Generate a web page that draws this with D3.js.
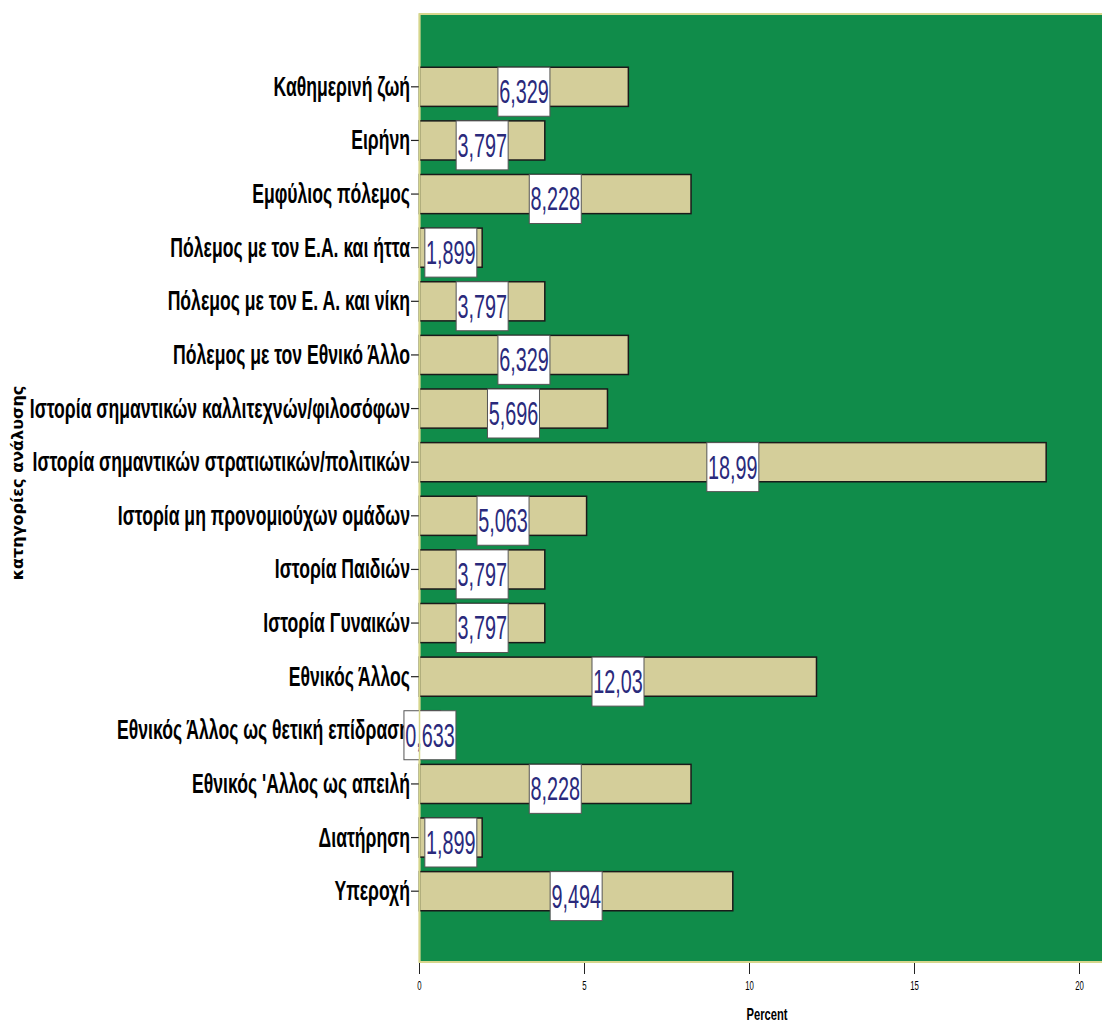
<!DOCTYPE html>
<html><head><meta charset="utf-8">
<script src="https://cdn.jsdelivr.net/npm/d3@7"></script>
<style>body{margin:0;background:#fff}svg{display:block}</style>
</head><body>
<script>
const categories = ["Καθημερινή ζωή","Ειρήνη","Εμφύλιος πόλεμος","Πόλεμος με τον Ε.Α. και ήττα","Πόλεμος με τον Ε. Α. και νίκη","Πόλεμος με τον Εθνικό Άλλο","Ιστορία σημαντικών καλλιτεχνών/φιλοσόφων","Ιστορία σημαντικών στρατιωτικών/πολιτικών","Ιστορία μη προνομιούχων ομάδων","Ιστορία Παιδιών","Ιστορία Γυναικών","Εθνικός Άλλος","Εθνικός Άλλος ως θετική επίδραση","Εθνικός 'Αλλος ως απειλή","Διατήρηση","Υπεροχή"];
const values = [6.329,3.797,8.228,1.899,3.797,6.329,5.696,18.99,5.063,3.797,3.797,12.03,0.633,8.228,1.899,9.494];
const valueLabels = ["6,329","3,797","8,228","1,899","3,797","6,329","5,696","18,99","5,063","3,797","3,797","12,03","0,633","8,228","1,899","9,494"];
const xTicks = [0,5,10,15,20];
const xTitle = "Percent";
const yTitle = "κατηγορίες ανάλυσης";

const W=1102,H=1022;
const svg=d3.select("body").append("svg").attr("width",W).attr("height",H);
const plotL=419.5, plotT=14, plotB=962;
const x=d3.scaleLinear().domain([0,20]).range([plotL,1079.5]);
const y=d3.scaleBand().domain(categories).range([60,918]).paddingInner(0.27).paddingOuter(0.135);

svg.append("rect").attr("x",plotL).attr("y",plotT).attr("width",W-plotL+5).attr("height",plotB-plotT)
  .attr("fill","#108c4a").attr("stroke","#d6d68c").attr("stroke-width",2);

// bars
svg.selectAll("rect.bar").data(values).enter().append("rect").attr("class","bar")
  .attr("x",x(0)).attr("y",(d,i)=>y(categories[i]))
  .attr("width",d=>x(d)-x(0)).attr("height",y.bandwidth())
  .attr("fill","#d4ce9a").attr("stroke","#1a1a1a").attr("stroke-width",1.5);

// y axis ticks + labels
const yg=svg.append("g");
categories.forEach(c=>{
  const cy=y(c)+y.bandwidth()/2;
  yg.append("line").attr("x1",411).attr("x2",plotL).attr("y1",cy).attr("y2",cy).attr("stroke","#222").attr("stroke-width",1.2);
  yg.append("text").attr("transform",`translate(410,${cy+9}) scale(0.652,1)`).attr("text-anchor","end")
    .attr("font-family","Liberation Sans, Arial, sans-serif").attr("font-weight","bold").attr("font-size",27).attr("fill","#000").text(c);
});

// value label boxes
const lg=svg.selectAll("g.lab").data(values).enter().append("g").attr("class","lab")
  .attr("transform",(d,i)=>`translate(${x(d/2)},${y(categories[i])})`);
lg.append("rect").attr("x",-26).attr("y",0).attr("width",52).attr("height",49)
  .attr("fill","#fff").attr("stroke","#555").attr("stroke-width",1);
lg.append("text").attr("transform","translate(0,36) scale(0.6,1)").attr("text-anchor","middle")
  .attr("font-family","Liberation Sans, Arial, sans-serif").attr("font-size",33).attr("fill","#2a2a7c")
  .text((d,i)=>valueLabels[i]);

// left plot border drawn over labels
svg.append("line").attr("x1",plotL).attr("x2",plotL).attr("y1",plotT).attr("y2",plotB)
  .attr("stroke","#d6d68c").attr("stroke-width",1.5);

// x axis
const xg=svg.append("g");
xTicks.forEach(t=>{
  xg.append("line").attr("x1",x(t)).attr("x2",x(t)).attr("y1",plotB+1).attr("y2",plotB+12).attr("stroke","#222").attr("stroke-width",1);
  xg.append("text").attr("transform",`translate(${x(t)},${plotB+28}) scale(0.6,1)`).attr("text-anchor","middle")
    .attr("font-family","Liberation Sans, Arial, sans-serif").attr("font-size",13).attr("fill","#000").text(t);
});
svg.append("text").attr("transform",`translate(767,1020) scale(0.7,1)`).attr("text-anchor","middle")
  .attr("font-family","Liberation Sans, Arial, sans-serif").attr("font-weight","bold").attr("font-size",16).text(xTitle);
svg.append("text").attr("transform","translate(23,483) rotate(-90)").attr("text-anchor","middle")
  .attr("font-family","DejaVu Sans, sans-serif").attr("font-weight","bold").attr("font-size",16).text(yTitle);
</script>
</body></html>
